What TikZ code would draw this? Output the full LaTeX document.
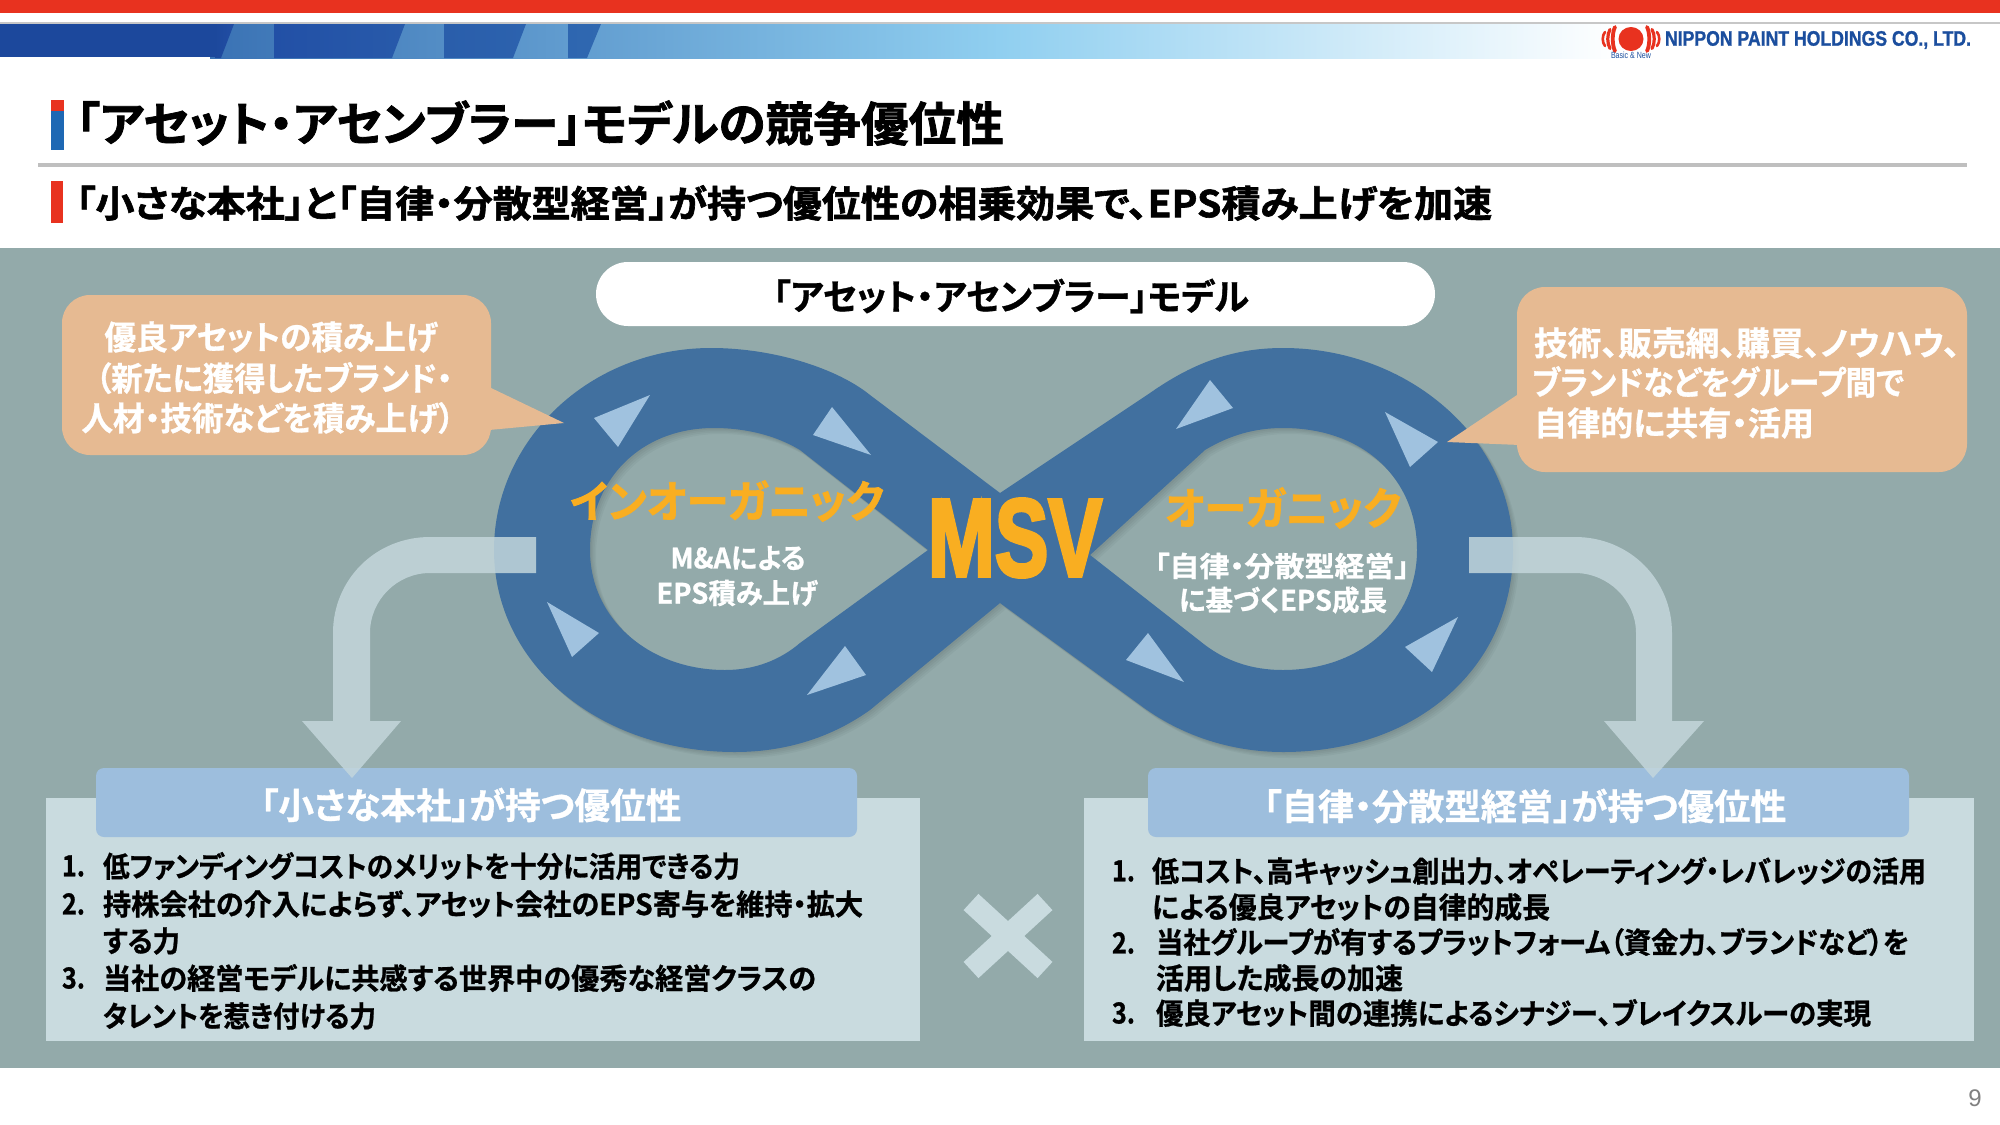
\documentclass[tikz,border=0pt]{standalone}
\usepackage{fontspec}
\usepackage{graphicx}
\setmainfont{Noto Sans CJK JP}[RawFeature={+palt}]
\newfontfamily\jph{Noto Sans CJK JP Bold}[RawFeature={+palt},FakeBold=1.6]
\newfontfamily\jpb{Noto Sans CJK JP Bold}[RawFeature={+palt},FakeBold=0.9]
\newfontfamily\lat{Liberation Sans}
\newfontfamily\latb{Liberation Sans Bold}[FakeBold=1.2]
\newfontfamily\latm{Liberation Sans Bold}[FakeBold=3.5]
\newdimen\px \px=0.75pt
\newcommand{\fw}[3]{\resizebox{#1\px}{\height}{\fontsize{#2\px}{#2\px}\selectfont #3}}
\definecolor{redbar}{HTML}{E8321F}
\definecolor{bg}{HTML}{93AAAA}
\definecolor{band}{HTML}{41709F}
\definecolor{tri}{HTML}{A0C2DF}
\definecolor{peach}{HTML}{E6BA92}
\definecolor{orangeT}{HTML}{F9AE21}
\definecolor{panel}{HTML}{C9DBDF}
\definecolor{head}{HTML}{9DBEDD}
\definecolor{arrowC}{HTML}{C4D7DC}
\definecolor{logoB}{HTML}{1B4E9E}
\definecolor{markB}{HTML}{1E68B4}
\tikzset{
  txt/.style={inner sep=0pt,outer sep=0pt,anchor=west},
  ctxt/.style={inner sep=0pt,outer sep=0pt,anchor=center},
  blk/.style={txt,text=black},
  wht/.style={ctxt,text=white},
  org/.style={ctxt,text=orangeT},
  tria/.style={fill=tri,draw=none},
  bigarrow/.style={fill=arrowC,fill opacity=.84,draw=none},
  panelbox/.style={fill=panel,draw=none},
  headbox/.style={fill=head,draw=none,rounded corners=8*0.75pt},
  logoarc/.style={draw=redbar,line cap=round},
}
\begin{document}
\begin{tikzpicture}[x=0.75pt,y=-0.75pt]
\useasboundingbox (0,0) rectangle (2000,1125);
\fill[white] (0,0) rectangle (2000,1125);
% top bars
\fill[redbar] (0,0) rectangle (2000,13);
\draw[color=black!22,line width=1.5*0.75pt] (0,23) -- (2000,23);
\shade[left color={rgb,255:red,58;green,114;blue,180},right color={rgb,255:red,144;green,207;blue,240}] (210,24) rectangle (1000,58);
\shade[left color={rgb,255:red,144;green,207;blue,240},right color=white] (1000,24) rectangle (1620,58);
\fill[fill={rgb,255:red,28;green,72;blue,156}] (0,24) rectangle (215,57.4);
\shade[left color={rgb,255:red,28;green,72;blue,156},right color={rgb,255:red,34;green,78;blue,164}] (215,24) -- (234,24) -- (221,58) -- (215,58) -- cycle;
\shade[left color={rgb,255:red,34;green,80;blue,166},right color={rgb,255:red,40;green,90;blue,170}] (274,24) -- (405,24) -- (392,58) -- (274,58) -- cycle;
\shade[left color={rgb,255:red,42;green,94;blue,171},right color={rgb,255:red,44;green,98;blue,174}] (444,24) -- (526,24) -- (513,58) -- (444,58) -- cycle;
\shade[left color={rgb,255:red,46;green,102;blue,176},right color={rgb,255:red,48;green,104;blue,176}] (568,24) -- (601,24) -- (587,58) -- (568,58) -- cycle;
% logo
\fill[redbar] (1631,39) ellipse (12.5 and 12);
\foreach \d/\h/\w in {16/12/3.8,21/9.5/3.2,26/7/2.6}{
  \draw[logoarc,line width=\w*0.75pt] (1631-\d,39-\h) .. controls (1631-\d-3,39-\h/2) and (1631-\d-3,39+\h/2) .. (1631-\d,39+\h);
  \draw[logoarc,line width=\w*0.75pt] (1631+\d,39-\h) .. controls (1631+\d+3,39-\h/2) and (1631+\d+3,39+\h/2) .. (1631+\d,39+\h);
}
\node[ctxt,text=logoB] (logosub) at (1631,55) {\fw{40}{9}{\lat Basic \& New}};
\node[txt,text=logoB] (logoname) at (1665,40) {\fw{306}{21}{\latb NIPPON PAINT HOLDINGS CO., LTD.}};
% title
\fill[redbar] (51,100) rectangle (64,111);
\fill[markB] (51,111) rectangle (64,150);
\node[blk] (title) at (76,123) {\fw{928}{47}{\jph 「アセット・アセンブラー」モデルの競争優位性}};
\fill[black!25] (38,163) rectangle (1967,167);
\fill[redbar] (51,181) rectangle (63,223);
\node[blk] (subtitle) at (76,203) {\fw{1416}{37}{\jph 「小さな本社」と「自律・分散型経営」が持つ優位性の相乗効果で、EPS積み上げを加速}};
% background
\fill[bg] (0,248) rectangle (2000,1068);
% pill
\fill[white,rounded corners=32*0.75pt] (596,262) rectangle (1435,326);
\node[ctxt,text=black] (pill) at (1011,296) {\fw{476}{36}{\jpb 「アセット・アセンブラー」モデル}};
% figure eight shadow + band
\def\eightpath{
  (1000,493) -- (870,395) .. controls (838,369) and (775,348) .. (711,348)
  .. controls (590,348) and (494,440) .. (494,550)
  .. controls (494,665) and (600,752) .. (735,752)
  .. controls (790,752) and (835,735) .. (870,710) -- (1000,603)
  -- (1140,705) .. controls (1180,735) and (1230,752) .. (1283,752)
  .. controls (1420,752) and (1513,665) .. (1513,550)
  .. controls (1513,440) and (1410,348) .. (1283,348)
  .. controls (1230,348) and (1190,365) .. (1150,393) -- cycle
  (928,550) -- (800,450) .. controls (775,435) and (745,428) .. (714,428)
  .. controls (640,428) and (590,480) .. (590,550)
  .. controls (590,620) and (650,670) .. (725,670)
  .. controls (755,670) and (780,660) .. (800,643) -- cycle
  (1090,555) -- (1205,450) .. controls (1230,435) and (1255,428) .. (1283,428)
  .. controls (1365,428) and (1417,480) .. (1417,550)
  .. controls (1417,620) and (1360,670) .. (1283,670)
  .. controls (1250,670) and (1225,660) .. (1205,645) -- cycle
}
\foreach \s in {1.5,3,4.5,6}{
  \fill[black,fill opacity=.035,even odd rule,shift={(\s,\s)}] \eightpath;
}
\fill[band,even odd rule] \eightpath;
% triangles
\fill[tria] (650,395) -- (594,418) -- (618,447) -- cycle;
\fill[tria] (832,407) -- (813,435) -- (871,455) -- cycle;
\fill[tria] (547,602) -- (599,633) -- (572,657) -- cycle;
\fill[tria] (845,646) -- (866,675) -- (807,695) -- cycle;
\fill[tria] (1210,380) -- (1233,408) -- (1176,429) -- cycle;
\fill[tria] (1385,412) -- (1438,442) -- (1410,467) -- cycle;
\fill[tria] (1458,617) -- (1405,647) -- (1432,672) -- cycle;
\fill[tria] (1148,633) -- (1126,660) -- (1184,682) -- cycle;
% callouts
\fill[peach,rounded corners=28*0.75pt] (62,295) rectangle (491,455);
\fill[peach] (489,387) -- (564,423) -- (489,430) -- cycle;
\node[wht] (cl1) at (271,337) {\fw{333}{33}{\jpb 優良アセットの積み上げ}};
\node[wht] (cl2) at (274,378) {\fw{357}{33}{\jpb （新たに獲得したブランド・}};
\node[wht] (cl3) at (268,418) {\fw{373}{33}{\jpb 人材・技術などを積み上げ）}};
\fill[peach,rounded corners=28*0.75pt] (1517,287) rectangle (1967,472);
\fill[peach] (1520,393) -- (1447,442) -- (1520,445) -- cycle;
\node[txt,text=white] (cr1) at (1534,343) {\fw{426}{33}{\jpb 技術、販売網、購買、ノウハウ、}};
\node[txt,text=white] (cr2) at (1532,382) {\fw{372}{33}{\jpb ブランドなどをグループ間で}};
\node[txt,text=white] (cr3) at (1534,423) {\fw{280}{33}{\jpb 自律的に共有・活用}};
% loop labels
\node[org] (inorg) at (727,501) {\fw{314}{44}{\jph インオーガニック}};
\node[org] (org) at (1283,508) {\fw{236}{44}{\jph オーガニック}};
\node[org] (msv) at (1015,538) {\resizebox{174\px}{77\px}{\latm MSV}};
\node[wht] (inorg1) at (738,558) {\fw{135}{28}{\jpb M\&Aによる}};
\node[wht] (inorg2) at (737,593) {\fw{161}{28}{\jpb EPS積み上げ}};
\node[wht] (org1) at (1282,566) {\fw{255}{28}{\jpb 「自律・分散型経営」}};
\node[wht] (org2) at (1283,600) {\fw{208}{28}{\jpb に基づくEPS成長}};
% panels
\fill[panelbox] (46,798) rectangle (920,1041);
\fill[panelbox] (1084,798) rectangle (1974,1041);
\fill[headbox] (96,768) rectangle (857,837);
\fill[headbox] (1148,768) rectangle (1909,837);
% arrows
\fill[bigarrow] (536,537) -- (430,537) .. controls (375,537) and (333,580) .. (333,633) -- (333,721) -- (302,721) -- (352,778) -- (401,721) -- (370,721) -- (370,633) .. controls (370,600) and (397,573) .. (430,573) -- (536,573) -- cycle;
\fill[bigarrow] (1469,537) -- (1575,537) .. controls (1630,537) and (1672,580) .. (1672,633) -- (1672,721) -- (1704,721) -- (1653,778) -- (1604,721) -- (1636,721) -- (1636,633) .. controls (1636,600) and (1608,573) .. (1575,573) -- (1469,573) -- cycle;
% panel headers
\node[wht] (hl) at (471,805) {\fw{421}{36}{\jpb 「小さな本社」が持つ優位性}};
\node[wht] (hr) at (1525,806) {\fw{523}{36}{\jpb 「自律・分散型経営」が持つ優位性}};
% left list
\node[blk] (ln1) at (62,866) {\fw{23}{29}{\jpb 1.}};
\node[blk] (l1) at (103,866) {\fw{637}{29}{\jpb 低ファンディングコストのメリットを十分に活用できる力}};
\node[blk] (ln2) at (62,904) {\fw{23}{29}{\jpb 2.}};
\node[blk] (l2) at (103,904) {\fw{760}{29}{\jpb 持株会社の介入によらず、アセット会社のEPS寄与を維持・拡大}};
\node[blk] (l2b) at (103,941) {\fw{77}{29}{\jpb する力}};
\node[blk] (ln3) at (62,978) {\fw{23}{29}{\jpb 3.}};
\node[blk] (l3) at (103,978) {\fw{713}{29}{\jpb 当社の経営モデルに共感する世界中の優秀な経営クラスの}};
\node[blk] (l3b) at (103,1016) {\fw{273}{29}{\jpb タレントを惹き付ける力}};
% cross
\draw[draw=panel,line width=22*0.75pt] (971,902) -- (1045,970);
\draw[draw=panel,line width=22*0.75pt] (1045,902) -- (971,970);
% right list
\node[blk] (rn1) at (1112,871) {\fw{23}{29}{\jpb 1.}};
\node[blk] (r1) at (1152,871) {\fw{774}{29}{\jpb 低コスト、高キャッシュ創出力、オペレーティング・レバレッジの活用}};
\node[blk] (r1b) at (1152,907) {\fw{398}{29}{\jpb による優良アセットの自律的成長}};
\node[blk] (rn2) at (1112,943) {\fw{23}{29}{\jpb 2.}};
\node[blk] (r2) at (1156,942) {\fw{753}{29}{\jpb 当社グループが有するプラットフォーム（資金力、ブランドなど）を}};
\node[blk] (r2b) at (1156,978) {\fw{247}{29}{\jpb 活用した成長の加速}};
\node[blk] (rn3) at (1112,1013) {\fw{23}{29}{\jpb 3.}};
\node[blk] (r3) at (1156,1013) {\fw{715}{29}{\jpb 優良アセット間の連携によるシナジー、ブレイクスルーの実現}};
% page number
\node[ctxt,text=black!50] (page) at (1975,1098) {\fontsize{24\px}{24\px}\selectfont\lat 9};
\end{tikzpicture}
\end{document}
